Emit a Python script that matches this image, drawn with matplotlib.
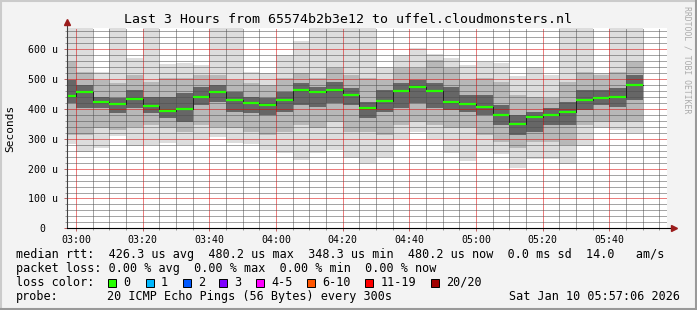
import matplotlib.pyplot as plt
from matplotlib.lines import Line2D
from matplotlib.patches import Rectangle
from matplotlib.ticker import MultipleLocator

plt.rcParams['font.family'] = ['DejaVu Sans Mono', 'DejaVu Sans']

# fin de cada intervalo de 5 min, 03:00 .. 05:50
horas = ["03:00", "03:05", "03:10", "03:15", "03:20", "03:25", "03:30", "03:35",
         "03:40", "03:45", "03:50", "03:55", "04:00", "04:05", "04:10", "04:15",
         "04:20", "04:25", "04:30", "04:35", "04:40", "04:45", "04:50", "04:55",
         "05:00", "05:05", "05:10", "05:15", "05:20", "05:25", "05:30", "05:35",
         "05:40", "05:45", "05:50"]

# rtt en microsegundos
mediana = [444, 456, 424, 416, 434, 409, 393, 400, 439, 456, 430, 420, 412, 430,
           464, 456, 464, 446, 403, 427, 461, 473, 461, 424, 416, 407, 380, 348.3,
           373, 380, 389, 430, 436, 440, 480.2]
maximo = [700, 700, 525, 700, 570, 700, 550, 555, 547, 700, 700, 525, 519, 581,
          628, 700, 700, 700, 700, 542, 581, 603, 583, 570, 548, 559, 555, 510,
          542, 513, 700, 700, 520, 700, 700]
minimo = [281, 257, 270, 308, 277, 279, 285, 279, 296, 305, 285, 281, 262, 253,
          229, 252, 262, 237, 220, 240, 298, 324, 300, 251, 226, 257, 249, 203,
          231, 234, 214, 277, 337, 329, 318]
banda_alta = [558, 525, 497, 486, 514, 491, 503, 503, 514, 514, 497, 486, 480, 503,
              519, 503, 536, 514, 503, 497, 536, 536, 564, 536, 497, 503, 491, 447,
              441, 436, 491, 525, 514, 525, 558]
banda_baja = [313, 313, 335, 329, 341, 346, 335, 324, 346, 341, 335, 324, 313, 324,
              346, 335, 357, 324, 324, 313, 346, 357, 346, 335, 335, 313, 290, 268,
              290, 290, 279, 346, 357, 357, 357]
nucleo_alto = [497, 480, 441, 436, 464, 441, 441, 452, 475, 480, 458, 441, 436, 458,
               486, 475, 491, 469, 424, 464, 486, 497, 486, 475, 447, 447, 413, 380,
               391, 402, 424, 464, 464, 469, 514]
nucleo_bajo = [419, 402, 402, 385, 402, 385, 369, 357, 413, 424, 391, 385, 380, 391,
               413, 408, 419, 413, 369, 391, 402, 419, 402, 396, 391, 380, 346, 313,
               324, 346, 346, 396, 413, 408, 430]

etiquetas_x = ["03:00", "03:20", "03:40", "04:00", "04:20", "04:40", "05:00", "05:20", "05:40"]
etiquetas_y = ["0  ", "100 u", "200 u", "300 u", "400 u", "500 u", "600 u"]

colores_perdida = ["#26ff00", "#00b8ff", "#0059ff", "#7e00ff", "#ff00ff", "#ff5500", "#ff0000", "#a10000"]
nombres_perdida = ["0", "1", "2", "3", "4-5", "6-10", "11-19", "20/20"]

W, H = 697, 310
t = [int(h[:2]) * 60 + int(h[3:]) for h in horas]

fig = plt.figure(figsize=(W / 100, H / 100), dpi=100, facecolor="#f3f3f3")
ax = fig.add_axes([67 / W, (H - 228.3) / H, 600 / W, 200 / H])
ax.set_facecolor("white")

# humo: capas de gris, la mas oscura cerca de la mediana
capas = [(minimo, maximo, "#dddddd"),
         (banda_baja, banda_alta, "#b8b8b8"),
         (nucleo_bajo, nucleo_alto, "#666666")]
for lo, hi, col in capas:
    ax.bar(t, [h - l for l, h in zip(lo, hi)], bottom=lo, width=-5, align="edge",
           color=col, linewidth=0, zorder=1)

# mediana
ax.step(t, mediana, where="pre", color="#202020", lw=0.7, zorder=3)
ax.hlines(mediana, [x - 5 for x in t], t, color="#26ff00", lw=1.6, zorder=4)

ax.set_xlim(177.3, 357.3)
ax.set_ylim(0, 670.5)

ax.set_xticks([int(h[:2]) * 60 + int(h[3:]) for h in etiquetas_x], etiquetas_x)
ax.xaxis.set_minor_locator(MultipleLocator(5))
ax.set_yticks(range(0, 700, 100), etiquetas_y)
ax.yaxis.set_minor_locator(MultipleLocator(20))

ax.set_axisbelow(False)
ax.grid(which="minor", color=(0.3, 0.3, 0.3, 0.2), lw=0.72, ls=(0, (1, 1)))
ax.grid(which="major", color=(0.85, 0.0, 0.0, 0.28), lw=0.72, ls=(0, (1, 1)))

ax.tick_params(which="major", length=2, width=0.7, color="#c06060", labelsize=7.1, pad=3)
ax.tick_params(which="minor", length=1.5, width=0.7, color="#999999")
ax.tick_params(axis="y", which="major", pad=4.5)

for s in ["top", "right", "left", "bottom"]:
    ax.spines[s].set_visible(False)

# ejes con flechas
ax.plot([0, 0], [0, 1.03], color="#404040", lw=0.8, transform=ax.transAxes, clip_on=False, zorder=5)
ax.plot([0, 1.008], [0, 0], color="black", lw=0.8, transform=ax.transAxes, clip_on=False, zorder=5)
ax.plot([0], [1.03], marker="^", ms=4, color="#9b1c1c", transform=ax.transAxes, clip_on=False, zorder=6)
ax.plot([1.012], [0], marker=">", ms=4, color="#9b1c1c", transform=ax.transAxes, clip_on=False, zorder=6)

def fx(x):
    return x / W

def fy(y):
    return 1 - y / H

fig.text(fx(348), fy(19.3), "Last 3 Hours from 65574b2b3e12 to uffel.cloudmonsters.nl",
         ha="center", va="center", fontsize=9.5)
fig.text(fx(10), fy(128), "Seconds", rotation=90, ha="center", va="center", fontsize=8)
fig.text(fx(687), fy(6), "RRDTOOL / TOBI OETIKER", rotation=270, ha="center", va="top",
         fontsize=5.9, color="#ababab")

fs = 8.5
fig.text(fx(16), fy(254.3), "median rtt:  426.3 us avg  480.2 us max  348.3 us min  480.2 us now  0.0 ms sd  14.0   am/s",
         va="center", fontsize=fs)
fig.text(fx(16), fy(268.3), "packet loss: 0.00 % avg  0.00 % max  0.00 % min  0.00 % now",
         va="center", fontsize=fs)
fig.text(fx(16), fy(282.3), "loss color:", va="center", fontsize=fs)
cajas_x = [108, 145.7, 182.7, 219.3, 256, 306.7, 365, 430.7]
for x, col, nom in zip(cajas_x, colores_perdida, nombres_perdida):
    fig.add_artist(Rectangle((fx(x), fy(287)), 8 / W, 8 / H, transform=fig.transFigure,
                             facecolor=col, edgecolor="black", lw=0.7))
    fig.text(fx(x + 15.3), fy(282.3), nom, va="center", fontsize=fs)
fig.text(fx(16), fy(296.3), "probe:", va="center", fontsize=fs)
fig.text(fx(107.3), fy(296.3), "20 ICMP Echo Pings (56 Bytes) every 300s", va="center", fontsize=fs)
fig.text(fx(680), fy(296.3), "Sat Jan 10 05:57:06 2026", ha="right", va="center", fontsize=fs)

# marco
fig.add_artist(Line2D([0, 1], [fy(1), fy(1)], color="#cbcbcb", lw=1.5, transform=fig.transFigure))
fig.add_artist(Line2D([fx(1), fx(1)], [0, 1], color="#cbcbcb", lw=1.5, transform=fig.transFigure))
fig.add_artist(Line2D([0, 1], [fy(309), fy(309)], color="#999999", lw=1.5, transform=fig.transFigure))
fig.add_artist(Line2D([fx(696), fx(696)], [0, 1], color="#999999", lw=1.5, transform=fig.transFigure))

fig.savefig("out.png", dpi=100, facecolor=fig.get_facecolor())
